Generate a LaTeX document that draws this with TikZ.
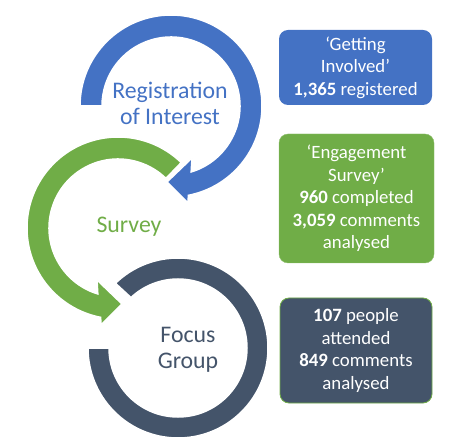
\documentclass[tikz,border=0pt]{standalone}
\usepackage{fontspec}
\setmainfont{Carlito}
\usepackage{tikz}
\definecolor{regblue}{HTML}{4472C4}
\definecolor{survgreen}{HTML}{70AD47}
\definecolor{focusslate}{HTML}{44546A}
\newcommand{\statnum}[1]{\textbf{#1}}
\newcommand{\ringfont}[0]{\fontsize{23.8}{26}\selectfont}
\newcommand{\boxfont}[0]{\fontsize{18.8}{22.5}\selectfont}

\begin{document}
\begin{tikzpicture}[x=1pt, y=1pt]
  \tikzset{ring/.style={draw=white, line width=1.5pt},
           ringlabel/.style={align=center, font=\ringfont},
           infobox/.style={align=center, text=white, font=\boxfont, rounded corners=9pt,
                           minimum width=153pt, inner sep=2pt}}
  \useasboundingbox (0,0) rectangle (476,439);
  % Focus Group ring
  \begin{scope}[shift={(178,91)}]
    \filldraw[ring, fill=focusslate] (134:90) arc[start angle=134, end angle=-180, radius=90]
      -- (-180:69) arc[start angle=-180, end angle=133, radius=69] -- cycle;
  \end{scope}
  % Survey arrow
  \begin{scope}[shift={(118,211)}]
    \filldraw[ring, fill=survgreen] (46:91) arc[start angle=46, end angle=259, radius=91]
      -- (-17,-97) -- (4,-76) -- (-21,-52)
      -- (253:69) arc[start angle=253, end angle=46, radius=69] -- cycle;
  \end{scope}
  % Registration arrow
  \begin{scope}[shift={(171,333)}]
    \filldraw[ring, fill=regblue] (180:91) arc[start angle=180, end angle=-79, radius=91]
      -- (17,-97) -- (-4,-76) -- (21,-52)
      -- (-73:69) arc[start angle=-73, end angle=180, radius=69] -- cycle;
  \end{scope}
  \node[ringlabel, text=regblue] (reglabel) at (170,336) {Registration\\of Interest};
  \node[ringlabel, text=survgreen] (survlabel) at (129,212) {Survey};
  \node[ringlabel, text=focusslate] (focuslabel) at (188,89) {Focus\\Group};
  \node[infobox, fill=regblue, minimum height=75pt] (regbox) at (355.5,371.5)
    {‘Getting\\Involved’\\\statnum{1,365} registered};
  \node[infobox, fill=survgreen, draw=survgreen!80!white, minimum width=155pt, minimum height=129pt] (survbox) at (356.5,240.5)
    {‘Engagement\\Survey’\\\statnum{960} completed\\\statnum{3,059} comments\\analysed};
  \node[infobox, fill=focusslate, draw=survgreen, line width=0.8pt, minimum width=152pt, minimum height=105pt] (focusbox) at (356,88.5)
    {\statnum{107} people\\attended\\\statnum{849} comments\\analysed};
\end{tikzpicture}
\end{document}
